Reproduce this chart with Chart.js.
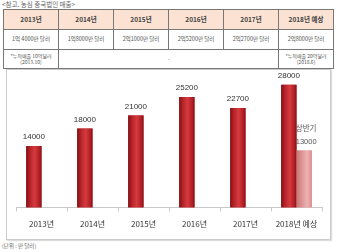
<!doctype html>
<html>
<head>
<meta charset="utf-8">
<title>농심 중국법인 매출</title>
<script src="https://cdn.jsdelivr.net/npm/chart.js@4.4.1/dist/chart.umd.min.js"></script>
<style>
    body { margin: 0; width: 340px; height: 252px; background: #fff; position: relative; overflow: hidden;
           font-family: "Noto Sans CJK KR", sans-serif; color: #333; }
    .title { position: absolute; left: 2px; top: 0px; font-size: 6.5px; color: #666; line-height: 9px; }
    table { position: absolute; left: 3px; top: 9px; width: 331px; border-collapse: collapse; table-layout: fixed; }
    td { border: 1px solid #777; text-align: center; padding: 0; font-size: 5.5px; line-height: 7px; color: #555; }
    tr.head td { background: #fbe2d2; height: 19px; font-size: 6.5px; font-weight: bold; color: #444; }
    tr.amt td { height: 19px; }
    tr.note td { height: 18px; font-size: 5px; line-height: 6.5px; }
    .box { position: absolute; left: 6px; top: 69px; width: 323px; height: 169px; border: 1px solid #ccc;
           box-shadow: 1px 1px 1px #ddd; }
    .box canvas { position: absolute; left: 0; top: 0; }
    .unit { position: absolute; left: 2px; top: 242px; font-size: 5.5px; color: #666; }
</style>
</head>
<body>
<div class="title">&lt;참고. 농심 중국법인 매출&gt;</div>
<table id="tbl"></table>
<div class="box"><canvas id="myChart" width="323" height="169"></canvas></div>
<div class="unit">(단위 : 만 달러)</div>

<script>
    // 표 데이터
    var tableYears = ['2013년', '2014년', '2015년', '2016년', '2017년', '2018년 예상'];
    var tableAmounts = ['1억 4000만 달러', '1억8000만 달러', '2억1000만 달러', '2억5200만 달러', '2억2700만 달러', '2억8000만 달러'];
    var noteFirst = ['*누적매출 10억달러', '(2013.10)'];
    var noteLast = ['*누적매출 20억달러', '(2018.6)'];

    // 차트 데이터 (단위: 만 달러)
    var categories = ['2013년', '2014년', '2015년', '2016년', '2017년', '2018년 예상'];
    var sales = [14000, 18000, 21000, 25200, 22700, 28000];
    var firstHalf = [null, null, null, null, null, 13000];
    var firstHalfLabel = '상반기';

    var html = '<tr class="head">' + tableYears.map(function (y) { return '<td>' + y + '</td>'; }).join('') + '</tr>';
    html += '<tr class="amt">' + tableAmounts.map(function (a) { return '<td>' + a + '</td>'; }).join('') + '</tr>';
    html += '<tr class="note"><td>' + noteFirst.join('<br>') + '</td><td colspan="4">-</td><td>' + noteLast.join('<br>') + '</td></tr>';
    document.getElementById('tbl').innerHTML = html;

    // 원통형 느낌의 그라데이션을 막대 위에 덧칠
    var barShade = {
        id: 'barShade',
        afterDatasetsDraw: function (chart) {
            var ctx = chart.ctx;
            var stops = [
                [[0, '#801113'], [0.25, '#b8232b'], [0.55, '#d43b3f'], [0.85, '#b31f25'], [1, '#861315']],
                [[0, '#c87474'], [0.35, '#dd9494'], [0.7, '#eeb3b3'], [1, '#d98e8e']]
            ];
            chart.data.datasets.forEach(function (ds, i) {
                chart.getDatasetMeta(i).data.forEach(function (bar, j) {
                    if (ds.data[j] == null) return;
                    var p = bar.getProps(['x', 'y', 'base', 'width'], true);
                    var l = p.x - p.width / 2;
                    var g = ctx.createLinearGradient(l, 0, l + p.width, 0);
                    stops[i].forEach(function (s) { g.addColorStop(s[0], s[1]); });
                    ctx.save();
                    ctx.fillStyle = g;
                    ctx.fillRect(l, p.y, p.width, p.base - p.y);
                    ctx.restore();
                });
            });
        }
    };

    var valueLabels = {
        id: 'valueLabels',
        afterDatasetsDraw: function (chart) {
            var ctx = chart.ctx;
            ctx.save();
            ctx.textAlign = 'center';
            ctx.textBaseline = 'middle';
            ctx.font = '8px "Liberation Sans", Arial, sans-serif';
            chart.getDatasetMeta(0).data.forEach(function (bar, j) {
                ctx.fillStyle = '#333';
                ctx.fillText(String(sales[j]), bar.x, bar.y - 9);
            });
            chart.getDatasetMeta(1).data.forEach(function (bar, j) {
                if (firstHalf[j] == null) return;
                ctx.fillStyle = '#555';
                ctx.font = '7.5px "Liberation Sans", Arial, sans-serif';
                ctx.fillText(String(firstHalf[j]), bar.x + 2, bar.y - 8.5);
                ctx.font = '7.5px "Noto Sans CJK KR", sans-serif';
                ctx.fillText(firstHalfLabel, bar.x + 2, bar.y - 22);
            });
            ctx.restore();
        }
    };

    var ctx = document.getElementById('myChart').getContext('2d');
    var myChart = new Chart(ctx, {
        type: 'bar',
        data: {
            labels: categories,
            datasets: [{
                label: '매출',
                data: sales,
                backgroundColor: '#b5222a',
                categoryPercentage: 0.6,
                barPercentage: 1.0
            }, {
                label: firstHalfLabel,
                data: firstHalf,
                backgroundColor: '#e4a0a0',
                categoryPercentage: 0.6,
                barPercentage: 1.0
            }]
        },
        options: {
            responsive: false,
            animation: false,
            layout: { padding: { top: 6, bottom: 2, left: 9, right: 8 } },
            plugins: { legend: { display: false }, tooltip: { enabled: false } },
            scales: {
                x: {
                    grid: { offset: true, drawOnChartArea: false, drawTicks: true, tickLength: 4, color: '#c8c8c8' },
                    border: { display: true, color: '#c8c8c8' },
                    ticks: { padding: 8, color: '#333', font: { family: '"Noto Sans CJK KR", sans-serif', size: 8 } }
                },
                y: { display: false, min: 0, max: 30000 }
            }
        },
        plugins: [barShade, valueLabels]
    });
</script>
</body>
</html>
